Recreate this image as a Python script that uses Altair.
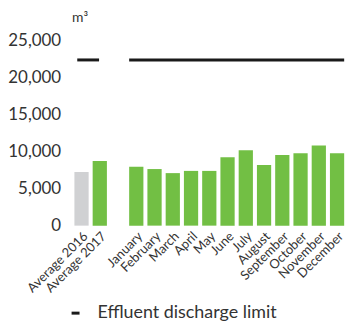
import altair as alt
import pandas as pd

# Categories on the x axis; the blank slot separates averages from months
averages = ["Average 2016", "Average 2017"]
months = ["January", "February", "March", "April", "May", "June", "July",
          "August", "September", "October", "November", "December"]
spacer = " "
order = averages + [spacer] + months

# Effluent volumes (m³)
avg_values = [7250, 8750]
month_values = [7950, 7650, 7100, 7400, 7400, 9250, 10200, 8200, 9550, 9800, 10850, 9800]
limit_value = 22400

bars = pd.DataFrame({
    "cat": averages + months,
    "value": avg_values + month_values,
    "kind": ["2016", "2017"] + ["2017"] * len(months),
})
limit_avg = pd.DataFrame({"start": ["Average 2016"], "end": ["Average 2017"],
                          "value": [limit_value], "series": ["Effluent discharge limit"]})
limit_month = pd.DataFrame({"start": ["January"], "end": ["December"],
                            "value": [limit_value], "series": ["Effluent discharge limit"]})

FONT = "Lato"
TEXT = "#333333"

x_scale = alt.Scale(domain=order, paddingInner=0.22, paddingOuter=0.1)
y_scale = alt.Scale(domain=[0, 25000])

bar_layer = alt.Chart(bars).mark_bar().encode(
    x=alt.X("cat:N", scale=x_scale, sort=order,
            axis=alt.Axis(title=None, labelAngle=-45, labelFontSize=13, labelFont=FONT,
                          labelColor=TEXT, ticks=False, domain=False, grid=False,
                          labelPadding=4)),
    y=alt.Y("value:Q", scale=y_scale,
            axis=alt.Axis(title="m³", titleAngle=0, titleAlign="left", titleBaseline="bottom",
                          titleX=-1, titleY=-16, titleFont=FONT, titleFontSize=14,
                          titleFontWeight="normal", titleColor=TEXT,
                          values=[0, 5000, 10000, 15000, 20000, 25000], format=",.0f",
                          labelFont=FONT, labelFontSize=17, labelColor=TEXT,
                          ticks=False, domain=False, grid=False, labelPadding=12)),
    color=alt.Color("kind:N", scale=alt.Scale(domain=["2016", "2017"],
                                              range=["#D0D1D3", "#72BF44"]),
                    legend=None),
)

legend_cfg = alt.Legend(title=None, orient="none", legendX=-6, legendY=265,
                        symbolType="stroke", symbolSize=64, symbolStrokeWidth=3,
                        labelFont=FONT, labelFontSize=18, labelFontWeight="normal",
                        labelColor=TEXT, labelOffset=13, labelLimit=400)

rule_avg = alt.Chart(limit_avg).mark_rule(strokeWidth=3).encode(
    x=alt.X("start:N", scale=x_scale, bandPosition=0.2, axis=None),
    x2=alt.X2("end:N", bandPosition=0.45),
    y=alt.Y("value:Q", scale=y_scale, axis=None),
    color=alt.Color("series:N", scale=alt.Scale(range=["#1a1a1a"]), legend=legend_cfg),
)

rule_month = alt.Chart(limit_month).mark_rule(strokeWidth=3).encode(
    x=alt.X("start:N", scale=x_scale, bandPosition=0, axis=None),
    x2=alt.X2("end:N", bandPosition=1),
    y=alt.Y("value:Q", scale=y_scale, axis=None),
    color=alt.Color("series:N", scale=alt.Scale(range=["#1a1a1a"]), legend=None),
)

chart = alt.layer(bar_layer, rule_avg, rule_month).resolve_scale(
    color="independent"
).resolve_axis(
    x="independent", y="independent"
).properties(
    width=275, height=186,
    autosize=alt.AutoSizeParams(type="none"),
    padding={"left": 73, "top": 40, "right": 0, "bottom": 101},
).configure(
    background="white",
    view=alt.ViewConfig(strokeWidth=0),
)

chart.save("out.html", embed_options={"renderer": "svg", "actions": False})
